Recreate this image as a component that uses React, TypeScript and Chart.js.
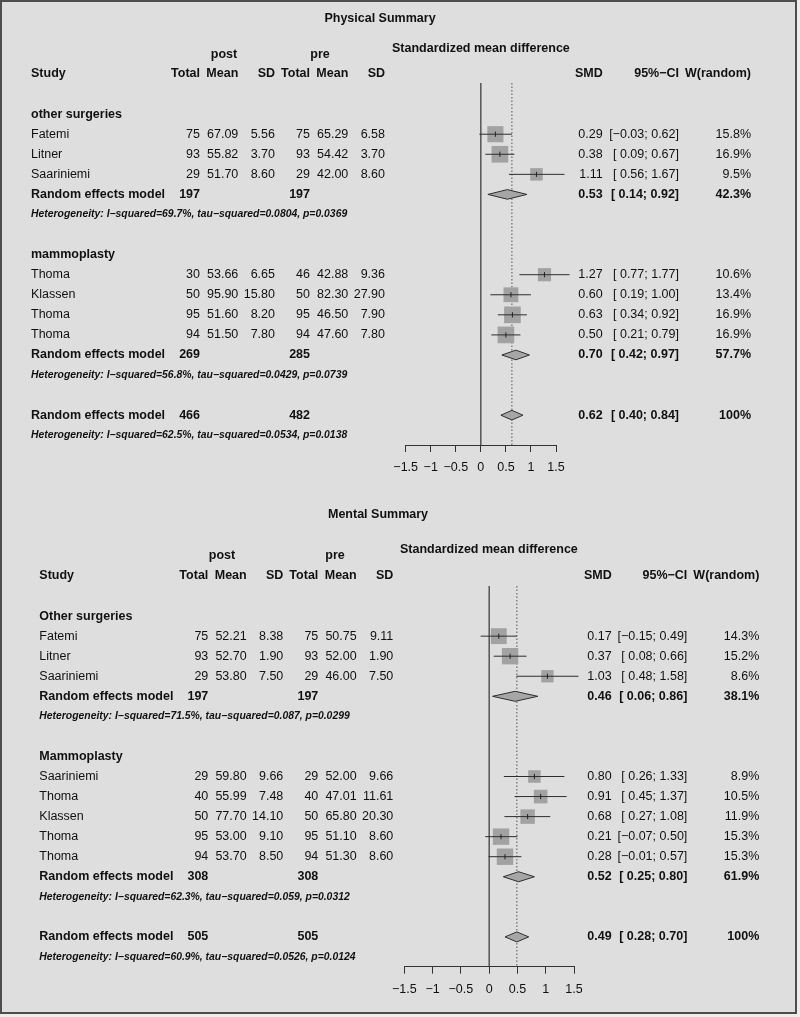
import React, { useEffect, useRef } from "react";
import { Chart, registerables } from "chart.js";

Chart.register(...registerables);

const FONT = "'Liberation Sans', Arial, Helvetica, sans-serif";
const MINUS = "\u2212";

// ---------------- Physical Summary ----------------
const physTitle = "Physical Summary";
const physGroupNames = ["other surgeries", "mammoplasty"];
const physStudies = ["Fatemi", "Litner", "Saariniemi", "Thoma", "Klassen", "Thoma", "Thoma"];
const physStudyGroup = [0, 0, 0, 1, 1, 1, 1];
const physPostTotal = [75, 93, 29, 30, 50, 95, 94];
const physPostMean = [67.09, 55.82, 51.7, 53.66, 95.9, 51.6, 51.5];
const physPostSD = [5.56, 3.7, 8.6, 6.65, 15.8, 8.2, 7.8];
const physPreTotal = [75, 93, 29, 46, 50, 95, 94];
const physPreMean = [65.29, 54.42, 42.0, 42.88, 82.3, 46.5, 47.6];
const physPreSD = [6.58, 3.7, 8.6, 9.36, 27.9, 7.9, 7.8];
const physSMD = [0.29, 0.38, 1.11, 1.27, 0.6, 0.63, 0.5];
const physLower = [-0.03, 0.09, 0.56, 0.77, 0.19, 0.34, 0.21];
const physUpper = [0.62, 0.67, 1.67, 1.77, 1.0, 0.92, 0.79];
const physWeight = [15.8, 16.9, 9.5, 10.6, 13.4, 16.9, 16.9];
const physGroupPostTotal = [197, 269];
const physGroupPreTotal = [197, 285];
const physGroupSMD = [0.53, 0.7];
const physGroupLower = [0.14, 0.42];
const physGroupUpper = [0.92, 0.97];
const physGroupWeight = [42.3, 57.7];
const physGroupHet = [
  "Heterogeneity: I\u2212squared=69.7%, tau\u2212squared=0.0804, p=0.0369",
  "Heterogeneity: I\u2212squared=56.8%, tau\u2212squared=0.0429, p=0.0739",
];
const physOverallPostTotal = 466;
const physOverallPreTotal = 482;
const physOverallSMD = 0.62;
const physOverallLower = 0.4;
const physOverallUpper = 0.84;
const physOverallWeight = 100;
const physOverallHet = "Heterogeneity: I\u2212squared=62.5%, tau\u2212squared=0.0534, p=0.0138";

// ---------------- Mental Summary ----------------
const mentTitle = "Mental Summary";
const mentGroupNames = ["Other surgeries", "Mammoplasty"];
const mentStudies = ["Fatemi", "Litner", "Saariniemi", "Saariniemi", "Thoma", "Klassen", "Thoma", "Thoma"];
const mentStudyGroup = [0, 0, 0, 1, 1, 1, 1, 1];
const mentPostTotal = [75, 93, 29, 29, 40, 50, 95, 94];
const mentPostMean = [52.21, 52.7, 53.8, 59.8, 55.99, 77.7, 53.0, 53.7];
const mentPostSD = [8.38, 1.9, 7.5, 9.66, 7.48, 14.1, 9.1, 8.5];
const mentPreTotal = [75, 93, 29, 29, 40, 50, 95, 94];
const mentPreMean = [50.75, 52.0, 46.0, 52.0, 47.01, 65.8, 51.1, 51.3];
const mentPreSD = [9.11, 1.9, 7.5, 9.66, 11.61, 20.3, 8.6, 8.6];
const mentSMD = [0.17, 0.37, 1.03, 0.8, 0.91, 0.68, 0.21, 0.28];
const mentLower = [-0.15, 0.08, 0.48, 0.26, 0.45, 0.27, -0.07, -0.01];
const mentUpper = [0.49, 0.66, 1.58, 1.33, 1.37, 1.08, 0.5, 0.57];
const mentWeight = [14.3, 15.2, 8.6, 8.9, 10.5, 11.9, 15.3, 15.3];
const mentGroupPostTotal = [197, 308];
const mentGroupPreTotal = [197, 308];
const mentGroupSMD = [0.46, 0.52];
const mentGroupLower = [0.06, 0.25];
const mentGroupUpper = [0.86, 0.8];
const mentGroupWeight = [38.1, 61.9];
const mentGroupHet = [
  "Heterogeneity: I\u2212squared=71.5%, tau\u2212squared=0.087, p=0.0299",
  "Heterogeneity: I\u2212squared=62.3%, tau\u2212squared=0.059, p=0.0312",
];
const mentOverallPostTotal = 505;
const mentOverallPreTotal = 505;
const mentOverallSMD = 0.49;
const mentOverallLower = 0.28;
const mentOverallUpper = 0.7;
const mentOverallWeight = 100;
const mentOverallHet = "Heterogeneity: I\u2212squared=60.9%, tau\u2212squared=0.0526, p=0.0124";

// x-axis tick values (both plots)
const axisTicks = [-1.5, -1, -0.5, 0, 0.5, 1, 1.5];

// ---------------- assembled structures ----------------
const physData = {
  title: physTitle, groupNames: physGroupNames, studies: physStudies, studyGroup: physStudyGroup,
  postTotal: physPostTotal, postMean: physPostMean, postSD: physPostSD,
  preTotal: physPreTotal, preMean: physPreMean, preSD: physPreSD,
  smd: physSMD, lower: physLower, upper: physUpper, weight: physWeight,
  gPostTotal: physGroupPostTotal, gPreTotal: physGroupPreTotal, gSMD: physGroupSMD,
  gLower: physGroupLower, gUpper: physGroupUpper, gWeight: physGroupWeight, gHet: physGroupHet,
  oPostTotal: physOverallPostTotal, oPreTotal: physOverallPreTotal, oSMD: physOverallSMD,
  oLower: physOverallLower, oUpper: physOverallUpper, oWeight: physOverallWeight, oHet: physOverallHet,
};
const mentData = {
  title: mentTitle, groupNames: mentGroupNames, studies: mentStudies, studyGroup: mentStudyGroup,
  postTotal: mentPostTotal, postMean: mentPostMean, postSD: mentPostSD,
  preTotal: mentPreTotal, preMean: mentPreMean, preSD: mentPreSD,
  smd: mentSMD, lower: mentLower, upper: mentUpper, weight: mentWeight,
  gPostTotal: mentGroupPostTotal, gPreTotal: mentGroupPreTotal, gSMD: mentGroupSMD,
  gLower: mentGroupLower, gUpper: mentGroupUpper, gWeight: mentGroupWeight, gHet: mentGroupHet,
  oPostTotal: mentOverallPostTotal, oPreTotal: mentOverallPreTotal, oSMD: mentOverallSMD,
  oLower: mentOverallLower, oUpper: mentOverallUpper, oWeight: mentOverallWeight, oHet: mentOverallHet,
};

// layout (pixels)
const physLayout = {
  rowY0: 74, rowStep: 20.07, plotTop: 83, plotBottom: 445, xLeft: 405.7, xRight: 556,
  cols: { study: 31, n1: 200, m1: 238.3, s1: 275, n2: 310, m2: 348.3, s2: 385, smd: 602.7, ci: 679, w: 751 },
  title: { x: 380, y: 19 }, post: { x: 224, y: 55 }, pre: { x: 320, y: 55 }, smdTitle: { x: 392, y: 49 },
  sq: 4.05, diamondH: 0.24,
};
const mentLayout = {
  rowY0: 576, rowStep: 20.05, plotTop: 586, plotBottom: 966.7, xLeft: 404.3, xRight: 574,
  cols: { study: 39.3, n1: 208.3, m1: 246.7, s1: 283.3, n2: 318.3, m2: 356.7, s2: 393.3, smd: 611.7, ci: 687.3, w: 759.3 },
  title: { x: 378, y: 515 }, post: { x: 222, y: 556 }, pre: { x: 335, y: 556 }, smdTitle: { x: 400, y: 550 },
  sq: 4.2, diamondH: 0.25,
};

const W = 800;
const H = 1017;
const AXIS_H = 40;
const TEXT = "#111111";
const REG = `12.5px ${FONT}`;
const BOLD = `bold 12.5px ${FONT}`;
const HET = `italic bold 10.4px ${FONT}`;

function fmtNum(v: number) {
  return v < 0 ? MINUS + Math.abs(v).toFixed(2) : v.toFixed(2);
}
function fmtCI(lo: number, hi: number) {
  const l = lo < 0 ? MINUS + Math.abs(lo).toFixed(2) : " " + lo.toFixed(2);
  const h = hi < 0 ? MINUS + Math.abs(hi).toFixed(2) : hi.toFixed(2);
  return `[${l}; ${h}]`;
}
function fmtW(w: number) {
  return w === 100 ? "100%" : w.toFixed(1) + "%";
}

function buildRows(d: any) {
  const rows: any[] = [];
  let r = 2;
  d.groupNames.forEach((g: string, gi: number) => {
    rows.push({ kind: "group", r, label: g });
    r++;
    d.studies.forEach((_s: string, i: number) => {
      if (d.studyGroup[i] !== gi) return;
      rows.push({ kind: "study", r, i });
      r++;
    });
    rows.push({ kind: "pooled", r, n1: d.gPostTotal[gi], n2: d.gPreTotal[gi], est: d.gSMD[gi], lo: d.gLower[gi], hi: d.gUpper[gi], w: d.gWeight[gi] });
    r++;
    rows.push({ kind: "het", r, text: d.gHet[gi] });
    r++;
    r++;
  });
  rows.push({ kind: "pooled", r, n1: d.oPostTotal, n2: d.oPreTotal, est: d.oSMD, lo: d.oLower, hi: d.oUpper, w: d.oWeight });
  r++;
  rows.push({ kind: "het", r, text: d.oHet });
  return rows;
}

function makeChart(canvas: HTMLCanvasElement, d: any, L: any) {
  const rows = buildRows(d);
  const yMin = (L.plotTop - L.rowY0) / L.rowStep;
  const yMax = (L.plotBottom - L.rowY0) / L.rowStep;
  const studyRows = rows.filter((x) => x.kind === "study");
  const pooledRows = rows.filter((x) => x.kind === "pooled");

  const datasets: any[] = [];
  // estimate ticks (top)
  datasets.push({
    type: "scatter",
    data: studyRows.map((s) => ({ x: d.smd[s.i], y: s.r })),
    pointStyle: "line",
    pointRotation: 90,
    pointRadius: 2.6,
    pointBorderColor: "#222",
    pointBorderWidth: 1,
    clip: false,
  });
  // CI lines
  studyRows.forEach((s) => {
    datasets.push({
      type: "line",
      data: [
        { x: d.lower[s.i], y: s.r },
        { x: d.upper[s.i], y: s.r },
      ],
      borderColor: "#2e2e2e",
      borderWidth: 1,
      pointRadius: 0,
      fill: false,
      clip: false,
    });
  });
  // squares
  datasets.push({
    type: "scatter",
    data: studyRows.map((s) => ({ x: d.smd[s.i], y: s.r })),
    pointStyle: "rect",
    pointRadius: studyRows.map((s) => (L.sq * Math.sqrt(d.weight[s.i])) / Math.SQRT2),
    pointBackgroundColor: "#a2a2a2",
    pointBorderWidth: 0,
    clip: false,
  });
  // diamonds
  pooledRows.forEach((p) => {
    datasets.push({
      type: "line",
      data: [
        { x: p.lo, y: p.r },
        { x: p.est, y: p.r - L.diamondH },
        { x: p.hi, y: p.r },
        { x: p.est, y: p.r + L.diamondH },
        { x: p.lo, y: p.r },
      ],
      borderColor: "#2e2e2e",
      borderWidth: 1,
      backgroundColor: "#a6a6a6",
      fill: "shape",
      pointRadius: 0,
      tension: 0,
      clip: false,
    });
  });
  // reference lines
  datasets.push({
    type: "line",
    data: [
      { x: d.oSMD, y: yMin },
      { x: d.oSMD, y: yMax },
    ],
    borderColor: "#555",
    borderWidth: 1,
    borderDash: [1.5, 2],
    pointRadius: 0,
    fill: false,
    clip: false,
  });
  datasets.push({
    type: "line",
    data: [
      { x: 0, y: yMin },
      { x: 0, y: yMax },
    ],
    borderColor: "#333",
    borderWidth: 1.2,
    pointRadius: 0,
    fill: false,
    clip: false,
  });

  const textPlugin = {
    id: "forestText",
    afterDraw(chart: any) {
      const ctx = chart.ctx;
      const ys = chart.scales.y;
      const c = L.cols;
      ctx.save();
      ctx.fillStyle = TEXT;
      ctx.textBaseline = "middle";
      const t = (s: string, x: number, y: number, align: string, font: string) => {
        ctx.font = font;
        ctx.textAlign = align;
        ctx.fillText(s, x, y);
      };
      // titles
      t(d.title, L.title.x, L.title.y, "center", BOLD);
      t("post", L.post.x, L.post.y, "center", BOLD);
      t("pre", L.pre.x, L.pre.y, "center", BOLD);
      t("Standardized mean difference", L.smdTitle.x, L.smdTitle.y, "left", BOLD);
      // header
      const hy = ys.getPixelForValue(0);
      t("Study", c.study, hy, "left", BOLD);
      t("Total", c.n1, hy, "right", BOLD);
      t("Mean", c.m1, hy, "right", BOLD);
      t("SD", c.s1, hy, "right", BOLD);
      t("Total", c.n2, hy, "right", BOLD);
      t("Mean", c.m2, hy, "right", BOLD);
      t("SD", c.s2, hy, "right", BOLD);
      t("SMD", c.smd, hy, "right", BOLD);
      t("95%" + MINUS + "CI", c.ci, hy, "right", BOLD);
      t("W(random)", c.w, hy, "right", BOLD);
      rows.forEach((row) => {
        const y = ys.getPixelForValue(row.r);
        if (row.kind === "group") {
          t(row.label, c.study, y, "left", BOLD);
        } else if (row.kind === "study") {
          const i = row.i;
          t(d.studies[i], c.study, y, "left", REG);
          t(String(d.postTotal[i]), c.n1, y, "right", REG);
          t(d.postMean[i].toFixed(2), c.m1, y, "right", REG);
          t(d.postSD[i].toFixed(2), c.s1, y, "right", REG);
          t(String(d.preTotal[i]), c.n2, y, "right", REG);
          t(d.preMean[i].toFixed(2), c.m2, y, "right", REG);
          t(d.preSD[i].toFixed(2), c.s2, y, "right", REG);
          t(fmtNum(d.smd[i]), c.smd, y, "right", REG);
          t(fmtCI(d.lower[i], d.upper[i]), c.ci, y, "right", REG);
          t(fmtW(d.weight[i]), c.w, y, "right", REG);
        } else if (row.kind === "pooled") {
          t("Random effects model", c.study, y, "left", BOLD);
          t(String(row.n1), c.n1, y, "right", BOLD);
          t(String(row.n2), c.n2, y, "right", BOLD);
          t(fmtNum(row.est), c.smd, y, "right", BOLD);
          t(fmtCI(row.lo, row.hi), c.ci, y, "right", BOLD);
          t(fmtW(row.w), c.w, y, "right", BOLD);
        } else if (row.kind === "het") {
          t(row.text, c.study, y, "left", HET);
        }
      });
      ctx.restore();
    },
  };

  return new Chart(canvas, {
    type: "scatter",
    data: { datasets },
    options: {
      responsive: false,
      maintainAspectRatio: false,
      devicePixelRatio: 1,
      animation: false,
      events: [],
      layout: {
        padding: {
          left: L.xLeft,
          right: W - L.xRight,
          top: L.plotTop,
          bottom: H - L.plotBottom - AXIS_H,
        },
      },
      plugins: { legend: { display: false }, tooltip: { enabled: false } },
      scales: {
        x: {
          type: "linear",
          position: "bottom",
          min: axisTicks[0],
          max: axisTicks[axisTicks.length - 1],
          afterFit: (s: any) => {
            s.height = AXIS_H;
          },
          afterBuildTicks: (s: any) => {
            s.ticks = axisTicks.map((v) => ({ value: v }));
          },
          border: { display: true, color: "#333", width: 1 },
          grid: { display: true, drawOnChartArea: false, drawTicks: true, tickLength: 7, color: "#333", lineWidth: 1 },
          ticks: {
            autoSkip: false,
            maxRotation: 0,
            padding: 8,
            color: TEXT,
            font: { family: FONT, size: 12.5 },
            callback: (v: any) => {
              const n = Number(v);
              return n < 0 ? MINUS + String(Math.abs(n)) : String(n);
            },
          },
        },
        y: {
          type: "linear",
          display: false,
          reverse: true,
          min: yMin,
          max: yMax,
        },
      },
    },
    plugins: [textPlugin],
  } as any);
}

export default function App() {
  const topRef = useRef<HTMLCanvasElement | null>(null);
  const botRef = useRef<HTMLCanvasElement | null>(null);
  useEffect(() => {
    const c1 = makeChart(topRef.current as HTMLCanvasElement, physData, physLayout);
    const c2 = makeChart(botRef.current as HTMLCanvasElement, mentData, mentLayout);
    return () => {
      c1.destroy();
      c2.destroy();
    };
  }, []);
  const cStyle: React.CSSProperties = { position: "absolute", left: 0, top: 0, width: W, height: H };
  return (
    <div style={{ position: "absolute", left: 0, top: 0, width: W, height: H, background: "#ededed", overflow: "hidden" }}>
      <div
        style={{
          position: "absolute",
          left: 0,
          top: 0,
          width: 797,
          height: 1014,
          boxSizing: "border-box",
          border: "2px solid #4d4d4d",
          background: "#dedede",
        }}
      />
      <canvas ref={topRef} width={W} height={H} style={cStyle} />
      <canvas ref={botRef} width={W} height={H} style={cStyle} />
    </div>
  );
}
